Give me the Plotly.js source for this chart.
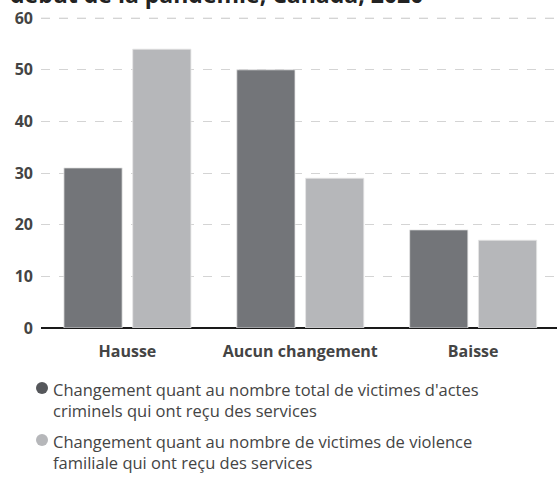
<!DOCTYPE html>
<html>
<head>
<meta charset="utf-8">
<script src="https://cdn.plot.ly/plotly-3.0.1.min.js"></script>
<style>html,body{margin:0;padding:0;background:#fff;}#chart{width:557px;height:479px;}</style>
</head>
<body>
<div id="chart"></div>
<script>
const categories = ["Hausse", "Aucun changement", "Baisse"];
const totalVictims = [31, 50, 19];
const familyViolenceVictims = [54, 29, 17];
const seriesNames = [
  "Changement quant au nombre total de victimes d'actes<br>criminels qui ont reçu des services",
  "Changement quant au nombre de victimes de violence<br>familiale qui ont reçu des services"
];
const yTicks = [0, 10, 20, 30, 40, 50, 60];
const titleText = "début de la pandémie, Canada, 2020";

const darkColor = "#737579";
const lightColor = "#b6b7ba";
const legendColors = ["#55575b", "#b6b7ba"];
const gridColor = "#d4d4d4";
const font = "'Open Sans', Roboto, sans-serif";

const W = 557, H = 479;
const M = {l: 41, r: 0, t: 13, b: 151};
const plotW = W - M.l - M.r, plotH = H - M.t - M.b;
const px2x = p => (p - M.l) / plotW;
const py2y = p => (H - M.b - p) / plotH;

const traces = [
  {type: "bar", x: categories, y: totalVictims, name: seriesNames[0], showlegend: false,
   marker: {color: darkColor, line: {color: "#e6e6e6", width: 0.8}}, hoverinfo: "y"},
  {type: "bar", x: categories, y: familyViolenceVictims, name: seriesNames[1], showlegend: false,
   marker: {color: lightColor, line: {color: "#e6e6e6", width: 0.8}}, hoverinfo: "y"}
];

const legendRowsY = [388, 440];
const shapes = [], annotations = [];
// top gridline (the top tick value), drawn through the y scale
const topTick = yTicks[yTicks.length - 1];
shapes.push({type: "line", layer: "below", xref: "paper", yref: "y", x0: 0, x1: 1, y0: topTick, y1: topTick,
  line: {color: gridColor, width: 1, dash: "dash"}});
seriesNames.forEach((name, i) => {
  shapes.push({type: "circle", xref: "paper", yref: "paper", xsizemode: "pixel", ysizemode: "pixel",
    xanchor: px2x(42), yanchor: py2y(legendRowsY[i]), x0: -6, x1: 6, y0: -6, y1: 6,
    fillcolor: legendColors[i], line: {width: 0}});
  annotations.push({xref: "paper", yref: "paper", x: px2x(52), y: py2y(legendRowsY[i] - 11),
    xanchor: "left", yanchor: "top", align: "left", showarrow: false, text: name,
    font: {family: font, size: 16.5, color: "#444"}, borderpad: 0});
});
// title (its upper part falls outside the picture, as in the reference)
annotations.push({xref: "paper", yref: "paper", x: px2x(9), y: py2y(11),
  xanchor: "left", yanchor: "bottom", align: "left", showarrow: false, text: "<b>" + titleText + "</b>",
  font: {family: font, size: 23, color: "#222"}, borderpad: 0});

const layout = {
  width: W, height: H,
  margin: {l: M.l, r: M.r, t: M.t, b: M.b, pad: 0},
  paper_bgcolor: "#fff", plot_bgcolor: "#fff",
  font: {family: font, color: "#444", size: 16},
  barmode: "group", bargap: 0.204, bargroupgap: 0.154,
  showlegend: false,
  xaxis: {type: "category", range: [-0.5, 2.485], showgrid: false, zeroline: false,
          showline: false, ticks: "", fixedrange: true, ticklabelstandoff: 12,
          tickfont: {family: font, size: 16, color: "#444", weight: 700}},
  yaxis: {range: [0, 61], tickvals: yTicks, showgrid: true, gridcolor: gridColor,
          griddash: "dash", gridwidth: 1, zeroline: true, zerolinecolor: "#1a1a1a", zerolinewidth: 1.6,
          showline: false, ticks: "", ticklabelstandoff: 7, fixedrange: true,
          tickfont: {family: font, size: 16, color: "#444", weight: 700}},
  shapes: shapes,
  annotations: annotations
};

Plotly.newPlot("chart", traces, layout, {displayModeBar: false, staticPlot: true});
</script>
</body>
</html>
